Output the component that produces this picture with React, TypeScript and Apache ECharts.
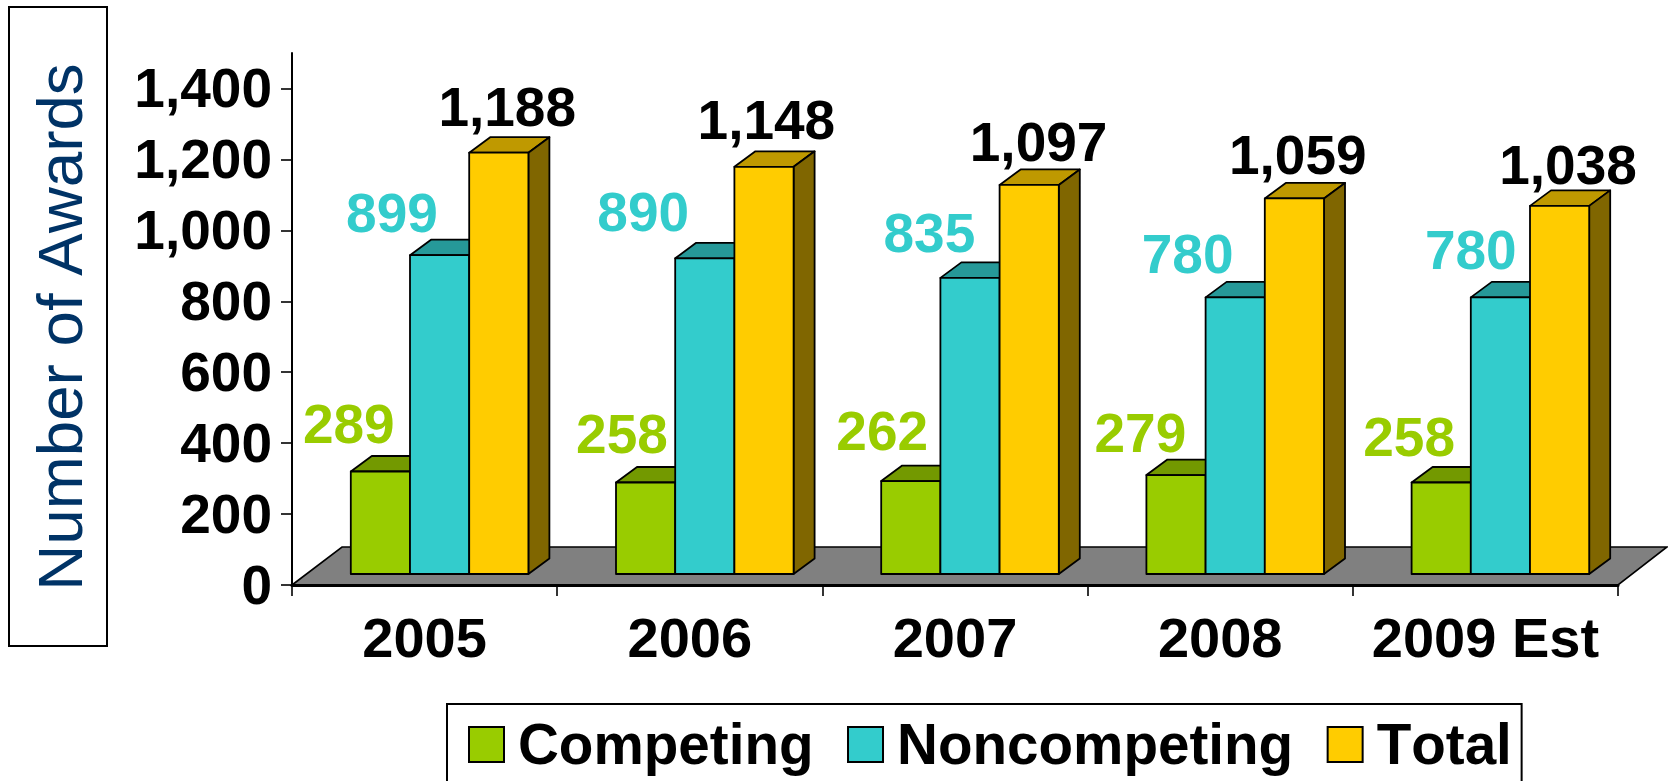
import React, { useEffect, useRef } from "react";
import * as echarts from "echarts";

const categories = ["2005", "2006", "2007", "2008", "2009 Est"];
const competing = [289, 258, 262, 279, 258];
const noncompeting = [899, 890, 835, 780, 780];
const total = [1188, 1148, 1097, 1059, 1038];
const yTicks = [0, 200, 400, 600, 800, 1000, 1200, 1400];

const FONT = "'Liberation Sans', Arial, sans-serif";
const BAR_W = 59.2;
const GROUP_DX = 15;
const LIFT = 11;
const DEPTH_X = 21;
const DEPTH_Y = 15.5;

// label placement relative to each bar's front top-left corner
const labelDx = [
  [-2, 6, 1, -6, -2.5],
  [-18, -32, -11, -18, 0],
  [38, 32, 39, 33, 38],
];
const labelDy = [
  [-28, -28, -30, -22, -25],
  [-22, -26, -25, -23, -27],
  [-26, -27, -23, -23, -21],
];

const palette = [
  { front: "#99CC00", top: "#739900", side: "#4D6600", text: "#99CC00" },
  { front: "#33CCCC", top: "#269999", side: "#1A6666", text: "#33CCCC" },
  { front: "#FFCC00", top: "#BF9900", side: "#806600", text: "#000000" },
];

function barSeries(name: string, values: number[], k: number) {
  const c = palette[k];
  return {
    type: "custom",
    name,
    z: 2 + k,
    itemStyle: { color: c.front, borderColor: "#000", borderWidth: 1 },
    data: values.map((v, i) => [i, v]),
    renderItem: (_p: any, api: any) => {
      const i = api.value(0);
      const v = api.value(1);
      const base = api.coord([i, 0]);
      const head = api.coord([i, v]);
      const l = base[0] + GROUP_DX + (k - 1.5) * BAR_W;
      const r = l + BAR_W;
      const b = base[1] - LIFT;
      const t = head[1] - LIFT;
      const line = { stroke: "#000", lineWidth: 1.8, lineJoin: "round" };
      return {
        type: "group",
        children: [
          {
            type: "polygon",
            shape: { points: [[l, t], [l + DEPTH_X, t - DEPTH_Y], [r + DEPTH_X, t - DEPTH_Y], [r, t]] },
            style: { fill: c.top, ...line },
          },
          {
            type: "polygon",
            shape: { points: [[r, t], [r + DEPTH_X, t - DEPTH_Y], [r + DEPTH_X, b - DEPTH_Y], [r, b]] },
            style: { fill: c.side, ...line },
          },
          {
            type: "rect",
            shape: { x: l, y: t, width: BAR_W, height: b - t },
            style: { fill: c.front, ...line },
          },
          {
            type: "text",
            z2: 10,
            style: {
              text: v.toLocaleString("en-US"),
              x: l + labelDx[k][i],
              y: t + labelDy[k][i] - 20,
              fill: c.text,
              font: `bold 55px ${FONT}`,
              align: "center",
              verticalAlign: "middle",
            },
          },
        ],
      };
    },
  };
}

const floorSeries = {
  type: "custom",
  name: "Floor",
  z: 0,
  silent: true,
  data: [[0, 0]],
  renderItem: (p: any) => {
    const { x, y, width, height } = p.coordSys;
    const by = y + height;
    return {
      type: "polygon",
      shape: {
        points: [[x, by], [x + 50, by - 38], [x + width + 49, by - 38], [x + width, by]],
      },
      style: { fill: "#808080", stroke: "#000", lineWidth: 1.6 },
    };
  },
};

export default function App() {
  const ref = useRef<HTMLDivElement>(null);
  useEffect(() => {
    const chart = echarts.init(ref.current!, null, { renderer: "svg" });
    chart.setOption({
      animation: false,
      backgroundColor: "#fff",
      grid: { left: 292, top: 53, right: 50, bottom: 196 },
      legend: {
        left: 447,
        top: 704,
        orient: "horizontal",
        data: [
          { name: "Competing", icon: "rect" },
          { name: "Noncompeting", icon: "rect" },
          { name: "Total", icon: "rect" },
        ],
        itemWidth: 35,
        itemHeight: 35,
        itemGap: 33.5,
        padding: [12, 14, 30, 21],
        borderColor: "#000",
        borderWidth: 2,
        backgroundColor: "#fff",
        selectedMode: false,
        textStyle: {
          fontFamily: FONT,
          fontWeight: "bold",
          fontSize: 56.6,
          color: "#000",
          padding: [0, 0, 0, 9],
        },
      },
      xAxis: {
        type: "category",
        data: categories,
        z: 1,
        axisLine: { lineStyle: { color: "#000", width: 3 } },
        axisTick: { show: true, length: 11, alignWithLabel: false, lineStyle: { color: "#000", width: 1.6 } },
        axisLabel: {
          interval: 0,
          margin: 24,
          color: "#000",
          fontFamily: FONT,
          fontWeight: "bold",
          fontSize: 56,
        },
        splitLine: { show: false },
      },
      yAxis: {
        type: "value",
        min: 0,
        max: 1500,
        z: 1,
        axisLine: { show: true, lineStyle: { color: "#000", width: 2 } },
        axisTick: { show: true, length: 11, customValues: yTicks, lineStyle: { color: "#000", width: 1.6 } },
        axisLabel: {
          customValues: yTicks,
          margin: 20,
          color: "#000",
          fontFamily: FONT,
          fontWeight: "bold",
          fontSize: 55,
          formatter: (v: number) => v.toLocaleString("en-US"),
        },
        splitLine: { show: false },
      },
      graphic: [
        {
          type: "rect",
          shape: { x: 9, y: 7, width: 98, height: 639 },
          style: { fill: "#fff", stroke: "#000", lineWidth: 2 },
        },
        {
          type: "text",
          x: 59,
          y: 327,
          rotation: Math.PI / 2,
          style: {
            text: "Number of Awards",
            fill: "#003366",
            font: `63.7px ${FONT}`,
            align: "center",
            verticalAlign: "middle",
          },
        },
      ],
      series: [
        floorSeries,
        barSeries("Competing", competing, 0),
        barSeries("Noncompeting", noncompeting, 1),
        barSeries("Total", total, 2),
      ],
    });
    return () => chart.dispose();
  }, []);
  return (
    <>
      <style>{"svg text { font-kerning: none !important; }"}</style>
      <div ref={ref} style={{ position: "absolute", left: 0, top: 0, width: 1668, height: 781 }} />
    </>
  );
}
